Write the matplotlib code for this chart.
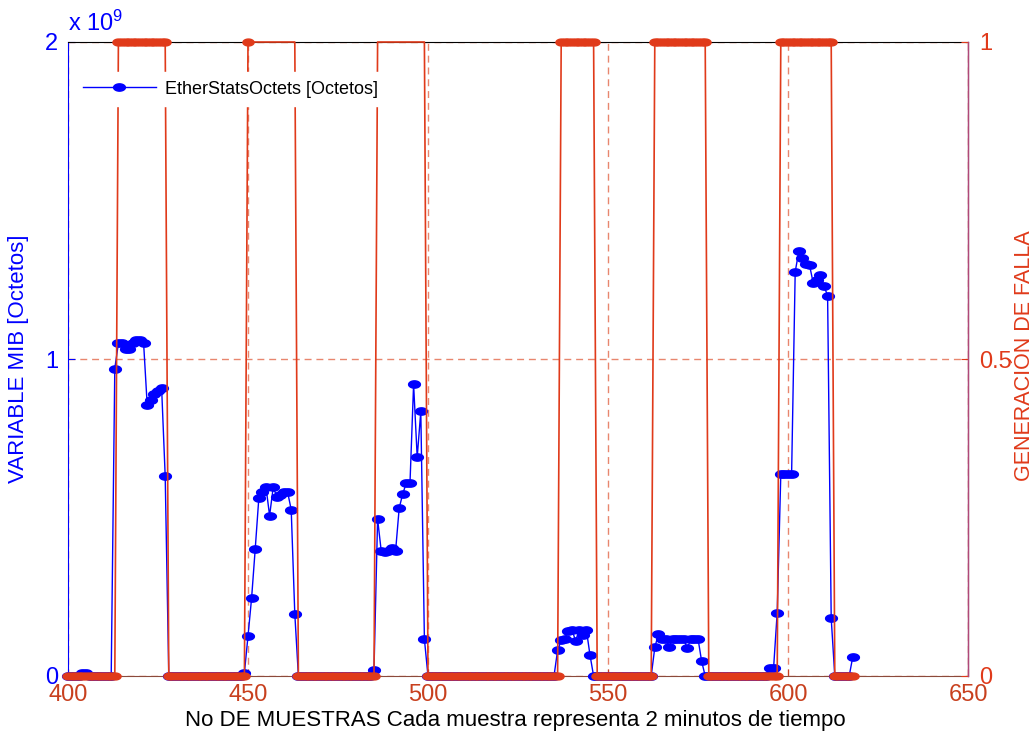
import numpy as np
import matplotlib
matplotlib.use("Agg")
import matplotlib.pyplot as plt
from matplotlib.path import Path

plt.rcParams['font.family'] = ['Liberation Sans', 'DejaVu Sans']

# ---------------- data ----------------
muestras = np.arange(400, 619)

# EtherStatsOctets, in units of 1e9 octets (samples 400..618)
octetos_e9 = [
    0, 0, 0, 0, 0.008, 0.008, 0, 0, 0, 0,                            # 400
    0, 0, 0, 0.97, 1.05, 1.05, 1.03, 1.03, 1.05, 1.06,               # 410
    1.06, 1.05, 0.855, 0.87, 0.89, 0.90, 0.91, 0.63, 0, 0,           # 420
    0, 0, 0, 0, 0, 0, 0, 0, 0, 0,                                    # 430
    0, 0, 0, 0, 0, 0, 0, 0, 0, 0.01,                                 # 440
    0.126, 0.246, 0.40, 0.56, 0.58, 0.595, 0.506, 0.595, 0.566, 0.57,  # 450
    0.58, 0.58, 0.525, 0.196, 0, 0, 0, 0, 0, 0,                      # 460
    0, 0, 0, 0, 0, 0, 0, 0, 0, 0,                                    # 470
    0, 0, 0, 0, 0, 0.02, 0.495, 0.395, 0.39, 0.395,                  # 480
    0.405, 0.395, 0.53, 0.575, 0.61, 0.61, 0.92, 0.69, 0.835, 0.116,  # 490
    0, 0, 0, 0, 0, 0, 0, 0, 0, 0,                                    # 500
    0, 0, 0, 0, 0, 0, 0, 0, 0, 0,                                    # 510
    0, 0, 0, 0, 0, 0, 0, 0, 0, 0,                                    # 520
    0, 0, 0, 0, 0, 0, 0.081, 0.112, 0.118, 0.143,                    # 530
    0.145, 0.111, 0.145, 0.129, 0.145, 0.066, 0, 0, 0, 0,            # 540
    0, 0, 0, 0, 0, 0, 0, 0, 0, 0,                                    # 550
    0, 0, 0, 0.09, 0.132, 0.118, 0.118, 0.093, 0.116, 0.116,         # 560
    0.118, 0.118, 0.087, 0.116, 0.118, 0.118, 0.047, 0, 0, 0,        # 570
    0, 0, 0, 0, 0, 0, 0, 0, 0, 0,                                    # 580
    0, 0, 0, 0, 0, 0.026, 0.026, 0.20, 0.636, 0.636,                 # 590
    0.636, 0.636, 1.275, 1.34, 1.32, 1.30, 1.295, 1.24, 1.25, 1.265,  # 600
    1.23, 1.20, 0.182, 0, 0, 0, 0, 0, 0.061,                         # 610
]

# Fault generation (0 / 1), samples 400..618
falla = [
    0, 0, 0, 0, 0, 0, 0, 0, 0, 0,   # 400
    0, 0, 0, 0, 1, 1, 1, 1, 1, 1,   # 410
    1, 1, 1, 1, 1, 1, 1, 1, 0, 0,   # 420
    0, 0, 0, 0, 0, 0, 0, 0, 0, 0,   # 430
    0, 0, 0, 0, 0, 0, 0, 0, 0, 0,   # 440
    1, 1, 1, 1, 1, 1, 1, 1, 1, 1,   # 450
    1, 1, 1, 1, 0, 0, 0, 0, 0, 0,   # 460
    0, 0, 0, 0, 0, 0, 0, 0, 0, 0,   # 470
    0, 0, 0, 0, 0, 0, 1, 1, 1, 1,   # 480
    1, 1, 1, 1, 1, 1, 1, 1, 1, 1,   # 490
    0, 0, 0, 0, 0, 0, 0, 0, 0, 0,   # 500
    0, 0, 0, 0, 0, 0, 0, 0, 0, 0,   # 510
    0, 0, 0, 0, 0, 0, 0, 0, 0, 0,   # 520
    0, 0, 0, 0, 0, 0, 0, 1, 1, 1,   # 530
    1, 1, 1, 1, 1, 1, 1, 0, 0, 0,   # 540
    0, 0, 0, 0, 0, 0, 0, 0, 0, 0,   # 550
    0, 0, 0, 1, 1, 1, 1, 1, 1, 1,   # 560
    1, 1, 1, 1, 1, 1, 1, 1, 0, 0,   # 570
    0, 0, 0, 0, 0, 0, 0, 0, 0, 0,   # 580
    0, 0, 0, 0, 0, 0, 0, 0, 1, 1,   # 590
    1, 1, 1, 1, 1, 1, 1, 1, 1, 1,   # 600
    1, 1, 1, 0, 0, 0, 0, 0, 0,      # 610
]

# stretches of the fault curve drawn without markers
tramos_sin_marcador = [(451, 463), (486, 499)]

xticks = [400, 450, 500, 550, 600, 650]
yticks_izq = [0, 1, 2]
yticks_der = [0, 0.5, 1]
yticklabels_der = ['0', '0.5', '1']

# ---------------- style ----------------
AZUL = '#0000FF'
ROJO = '#E03A1A'
ROJO_TXT = '#C8401E'
GRID = '#E8866E'

t = np.linspace(0, 2 * np.pi, 40)
elipse = Path(np.column_stack([np.cos(t), 0.62 * np.sin(t)]), closed=True)

W, H = 1035, 735
fig = plt.figure(figsize=(W / 100, H / 100), dpi=100)
L, R, T, B = 68, 968, 42, 676
ax1 = fig.add_axes([L / W, 1 - B / H, (R - L) / W, (B - T) / H])
ax2 = ax1.twinx()

x = np.asarray(muestras)
oct_arr = np.asarray(octetos_e9)
f_arr = np.asarray(falla, dtype=float)

linea, = ax1.plot(x, oct_arr, color=AZUL, lw=1.0, marker=elipse, ms=8.5,
                  mec=AZUL, mfc=AZUL, clip_on=False, zorder=3,
                  label='EtherStatsOctets [Octetos]')

ax2.plot(x, f_arr, color=ROJO, lw=1.2, clip_on=False, zorder=3)
mask = np.ones(len(x), dtype=bool)
for a, b in tramos_sin_marcador:
    mask &= ~((x >= a) & (x <= b))
ax2.plot(x[mask], f_arr[mask], ls='none', marker=elipse, ms=8,
         color=ROJO, clip_on=False, zorder=3)

ax1.set_xlim(400, 650)
ax1.set_ylim(0, 2)
ax2.set_ylim(0, 1)
ax1.set_xticks(xticks)
ax1.set_yticks(yticks_izq)
ax2.set_yticks(yticks_der)
ax2.set_yticklabels(yticklabels_der)

ax1.grid(True, ls=(0, (5, 3.5)), color=GRID, lw=1.0, zorder=0)
ax1.set_axisbelow(True)

ax1.tick_params(axis='x', colors=ROJO_TXT, labelsize=17, direction='in',
                length=5, pad=6)
ax1.tick_params(axis='y', colors=AZUL, labelsize=17, direction='in',
                length=5, pad=7)
ax2.tick_params(axis='y', colors=ROJO, labelsize=17, direction='in',
                length=5, pad=8)

ax1.spines['left'].set_color(AZUL)
ax1.spines['top'].set_color('black')
ax1.spines['bottom'].set_color('#8B4A3C')
ax2.spines['right'].set_color('#B0487A')
for sp in ax2.spines.values():
    sp.set_linewidth(1.0)
ax2.spines['left'].set_visible(False)
ax2.spines['top'].set_visible(False)
ax2.spines['bottom'].set_visible(False)

ax1.text(0.0, 1.0 + 6 / (B - T), r'x $\mathregular{10^{9}}$', transform=ax1.transAxes,
         ha='left', va='bottom', color=AZUL, fontsize=17)

ax1.set_xlabel('No DE MUESTRAS Cada muestra representa 2 minutos de tiempo',
               fontsize=16, color='black')
ax1.xaxis.set_label_coords(0.497, -0.054)
ax1.set_ylabel('VARIABLE MIB [Octetos]', fontsize=16, color=AZUL)
ax1.yaxis.set_label_coords(-0.043, 0.5)
ax2.set_ylabel('GENERACIÓN DE FALLA', fontsize=15.5, color=ROJO)
ax2.yaxis.set_label_coords(1.051, 0.505)

leg = ax2.legend(handles=[linea], loc='upper left',
                 bbox_to_anchor=(0.008, 0.952), borderaxespad=0,
                 frameon=True, fancybox=False, edgecolor='white',
                 facecolor='white', framealpha=1, fontsize=13,
                 handlelength=4.0, handletextpad=0.5, borderpad=0.45)

fig.savefig('out.png', dpi=100)
